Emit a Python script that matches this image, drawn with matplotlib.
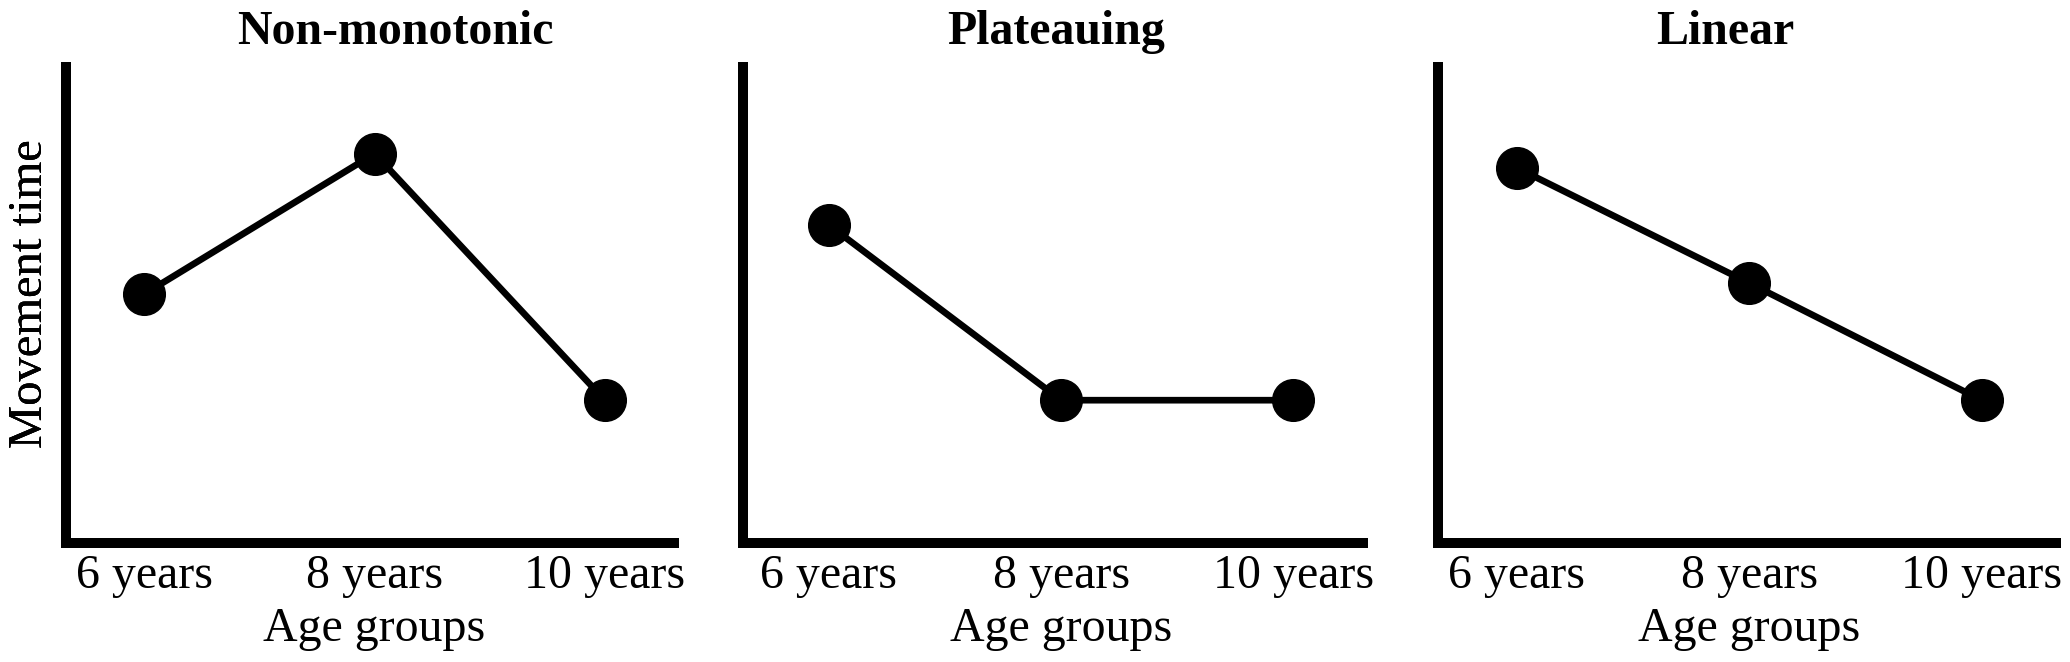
import matplotlib
matplotlib.use("Agg")
import matplotlib.pyplot as plt

plt.rcParams['font.family'] = ['Liberation Serif', 'DejaVu Serif']

age_groups = ["6 years", "8 years", "10 years"]
titles = ["Non-monotonic", "Plateauing", "Linear"]
non_monotonic = [5.23, 8.18, 3.0]
plateauing = [6.68, 3.0, 3.0]
linear = [7.88, 5.46, 3.0]
series = [non_monotonic, plateauing, linear]

W, H = 2070, 662
fig = plt.figure(figsize=(W / 100, H / 100), dpi=100)

# axes rectangles in pixels: left, right (spine centre)
rects = [(66, 674), (743, 1363), (1438, 2056)]
xlims = [(-0.34, 2.30), (-0.37, 2.30), (-0.34, 2.32)]
title_cx = [395, 1056, 1725]
top_px, bot_px = 67, 543
fs = 34.5

for i, ((l, r), title, vals, xlim) in enumerate(zip(rects, titles, series, xlims)):
    ax = fig.add_axes([l / W, (H - bot_px) / H, (r - l) / W, (bot_px - top_px) / H])
    xs = list(range(len(age_groups)))
    ax.plot(xs, vals, color='black', lw=4.8, marker='o', ms=30,
            markerfacecolor='black', markeredgecolor='black', solid_capstyle='round')
    ax.set_xlim(*xlim)
    ax.set_ylim(0, 10)
    ax.set_xticks(xs)
    ax.set_xticklabels(age_groups, fontsize=fs)
    ax.set_yticks([])
    ax.tick_params(axis='x', length=0, pad=8.0)
    for s in ['top', 'right']:
        ax.spines[s].set_visible(False)
    for s in ['left', 'bottom']:
        ax.spines[s].set_linewidth(7.2)
        ax.spines[s].set_capstyle('projecting')
        ax.spines[s].set_color('black')
    ax.set_xlabel("Age groups", fontsize=fs)
    mid_frac = (1 - xlim[0]) / (xlim[1] - xlim[0])
    ax.xaxis.set_label_coords(mid_frac, (bot_px - 607) / (bot_px - top_px))
    ax.set_ylabel("Movement time", fontsize=fs + 0.5)
    ax.yaxis.set_label_coords((52 - l) / (r - l), (bot_px - 294) / (bot_px - top_px))
    ax.text((title_cx[i] - l) / (r - l), (bot_px - 43.5) / (bot_px - top_px), title,
            transform=ax.transAxes, ha='center', va='baseline',
            fontsize=fs, fontweight='bold')

fig.savefig("out.png", dpi=100, facecolor='white')
